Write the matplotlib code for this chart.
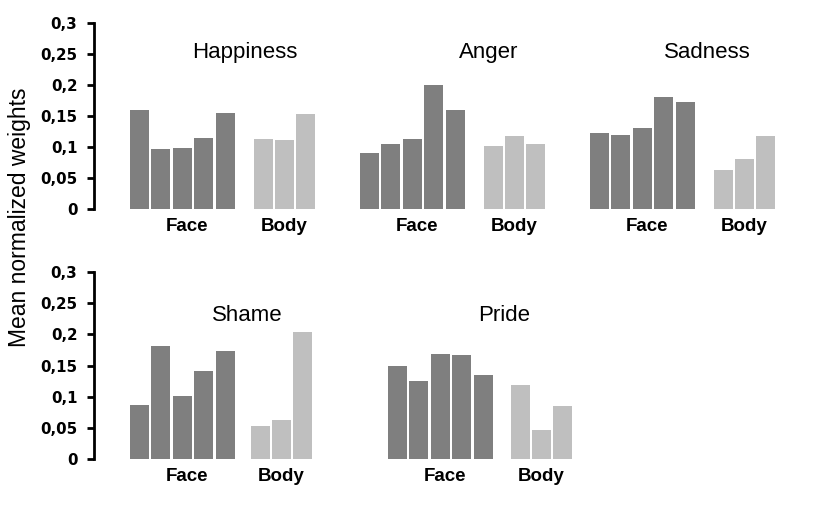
import numpy as np
import matplotlib.pyplot as plt

# mean normalized weights
emotions = ["Happiness", "Anger", "Sadness", "Shame", "Pride"]
face_vals = [
    [0.160, 0.097, 0.098, 0.115, 0.155],
    [0.091, 0.105, 0.113, 0.200, 0.160],
    [0.123, 0.120, 0.130, 0.180, 0.173],
    [0.086, 0.182, 0.101, 0.141, 0.174],
    [0.150, 0.125, 0.169, 0.167, 0.135],
]
body_vals = [
    [0.113, 0.111, 0.153],
    [0.102, 0.117, 0.105],
    [0.063, 0.081, 0.118],
    [0.053, 0.063, 0.203],
    [0.119, 0.047, 0.085],
]
yticks = [0, 0.05, 0.1, 0.15, 0.2, 0.25, 0.3]
ytick_labels = ["0", "0,05", "0,1", "0,15", "0,2", "0,25", "0,3"]

# layout (x in pixel units of the figure)
row_of = [0, 0, 0, 1, 1]
face_start = [130, 360, 590, 130, 388]
body_gap = [124, 124, 124, 121, 123]
title_x = [245, 489, 707, 247, 504]
title_y = [0.253, 0.253, 0.253, 0.231, 0.231]
face_pitch = 21.4
body_pitch = 21.0
bar_w = 19

dark = "#7f7f7f"
light = "#bfbfbf"

W, H = 822, 519
fig = plt.figure(figsize=(W / 100, H / 100), dpi=100)

axes = []
for top, bottom in [(23, 209), (272, 459)]:
    ax = fig.add_axes([94 / W, 1 - bottom / H, 1 - 94 / W, (bottom - top) / H])
    ax.set_xlim(94, W)
    ax.set_ylim(0, 0.3)
    for s in ["top", "right", "bottom"]:
        ax.spines[s].set_visible(False)
    ax.spines["left"].set_linewidth(2)
    ax.set_xticks([])
    ax.set_yticks(yticks)
    ax.set_yticklabels(ytick_labels, fontfamily="DejaVu Sans", fontweight="bold", fontsize=10.8)
    ax.tick_params(axis="y", length=5, width=2, pad=7)
    ax.patch.set_alpha(0)
    axes.append(ax)

for i, emo in enumerate(emotions):
    ax = axes[row_of[i]]
    fx = face_start[i] + bar_w / 2 + np.arange(len(face_vals[i])) * face_pitch
    bx = face_start[i] + body_gap[i] + bar_w / 2 + np.arange(len(body_vals[i])) * body_pitch
    ax.bar(fx, face_vals[i], width=bar_w, color=dark)
    ax.bar(bx, body_vals[i], width=bar_w, color=light)
    ax.text(title_x[i], title_y[i], emo, ha="center", va="center",
            fontfamily="Liberation Sans", fontsize=16)
    ax.text(face_start[i] + 57, -0.028, "Face", ha="center", va="center",
            fontfamily="Liberation Sans", fontweight="bold", fontsize=13.5, clip_on=False)
    ax.text(face_start[i] + body_gap[i] + 30, -0.028, "Body", ha="center", va="center",
            fontfamily="Liberation Sans", fontweight="bold", fontsize=13.5, clip_on=False)

fig.text(20 / W, 1 - 217 / H, "Mean normalized weights", rotation=90, ha="center", va="center",
         fontfamily="Liberation Sans", fontsize=16.5)

fig.savefig("out.png", dpi=100)
